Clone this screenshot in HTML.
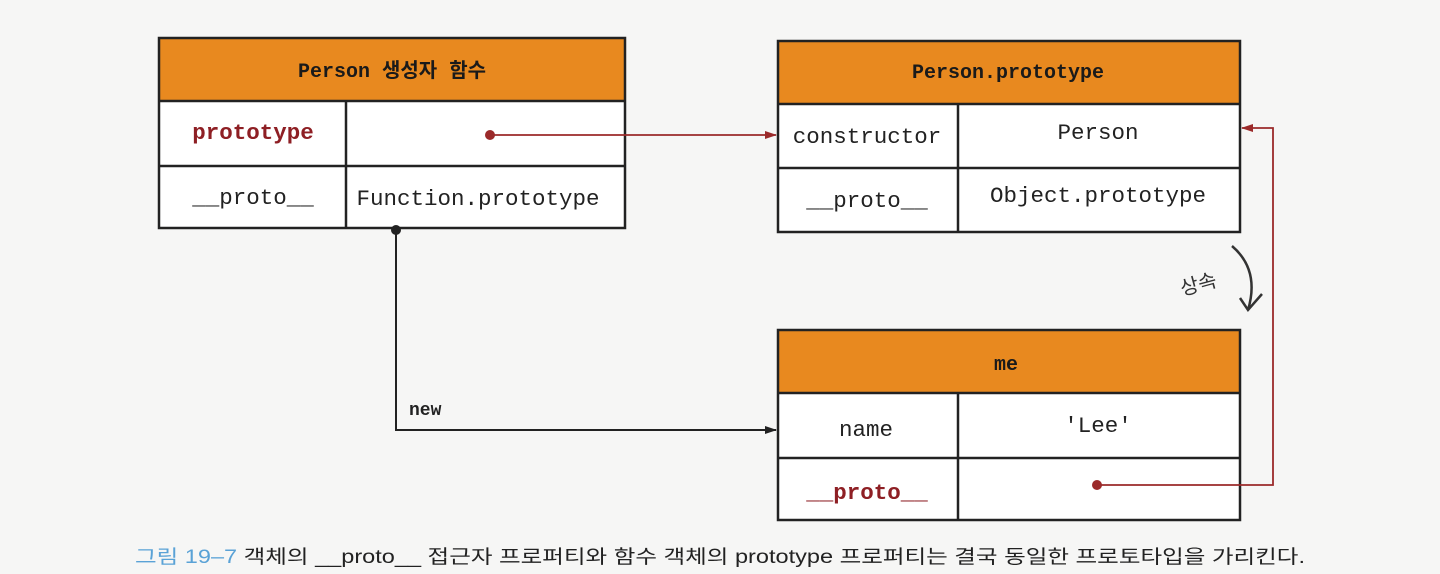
<!DOCTYPE html>
<html><head><meta charset="utf-8"><style>
html,body{margin:0;padding:0;background:#f6f6f5;}
svg{display:block}
.m{font-family:"Liberation Mono","DejaVu Sans Mono","Noto Sans CJK KR",monospace;font-size:22.5px;fill:#222}
.h{font-weight:bold;fill:#1a1a1a;font-size:20px}
.r{fill:#8e1f24;font-weight:bold}
</style></head><body>
<svg width="1440" height="574" viewBox="0 0 1440 574" xmlns="http://www.w3.org/2000/svg">
<defs>
<marker id="ar" markerWidth="12" markerHeight="10" refX="11" refY="5" orient="auto" markerUnits="userSpaceOnUse"><path d="M0,1 L12,5 L0,9 z" fill="#9b2a2a"/></marker>
<marker id="ab" markerWidth="12" markerHeight="10" refX="11" refY="5" orient="auto" markerUnits="userSpaceOnUse"><path d="M0,1 L12,5 L0,9 z" fill="#222"/></marker>
</defs>
<rect width="1440" height="574" fill="#f6f6f5"/>
<!-- Box 1 -->
<rect x="159" y="38" width="466" height="63" fill="#e8891f"/>
<rect x="159" y="101" width="466" height="127" fill="#fff"/>
<g stroke="#222" stroke-width="2.5" fill="none">
<rect x="159" y="38" width="466" height="190"/>
<line x1="159" y1="101" x2="625" y2="101"/>
<line x1="159" y1="166" x2="625" y2="166"/>
<line x1="346" y1="101" x2="346" y2="228"/>
</g>
<text class="m h" x="392" y="77" text-anchor="middle">Person 생성자 함수</text>
<text class="m r" x="253" y="139" text-anchor="middle">prototype</text>
<text class="m" x="253" y="204" text-anchor="middle">__proto__</text>
<text class="m" x="478" y="205" text-anchor="middle">Function.prototype</text>
<!-- Box 2 -->
<rect x="778" y="41" width="462" height="63" fill="#e8891f"/>
<rect x="778" y="104" width="462" height="128" fill="#fff"/>
<g stroke="#222" stroke-width="2.5" fill="none">
<rect x="778" y="41" width="462" height="191"/>
<line x1="778" y1="104" x2="1240" y2="104"/>
<line x1="778" y1="168" x2="1240" y2="168"/>
<line x1="958" y1="104" x2="958" y2="232"/>
</g>
<text class="m h" x="1008" y="78" text-anchor="middle">Person.prototype</text>
<text class="m" x="867" y="143" text-anchor="middle">constructor</text>
<text class="m" x="1098" y="139" text-anchor="middle">Person</text>
<text class="m" x="867" y="207" text-anchor="middle">__proto__</text>
<text class="m" x="1098" y="202" text-anchor="middle">Object.prototype</text>
<!-- Box 3 -->
<rect x="778" y="330" width="462" height="63" fill="#e8891f"/>
<rect x="778" y="393" width="462" height="127" fill="#fff"/>
<g stroke="#222" stroke-width="2.5" fill="none">
<rect x="778" y="330" width="462" height="190"/>
<line x1="778" y1="393" x2="1240" y2="393"/>
<line x1="778" y1="458" x2="1240" y2="458"/>
<line x1="958" y1="393" x2="958" y2="520"/>
</g>
<text class="m h" x="1006" y="370" text-anchor="middle">me</text>
<text class="m" x="866" y="436" text-anchor="middle">name</text>
<text class="m" x="1098" y="432" text-anchor="middle">'Lee'</text>
<text class="m r" x="867" y="499" text-anchor="middle">__proto__</text>
<!-- connectors -->
<circle cx="490" cy="135" r="5" fill="#9b2a2a"/>
<line x1="490" y1="135" x2="776" y2="135" stroke="#9b2a2a" stroke-width="1.8" marker-end="url(#ar)"/>
<circle cx="396" cy="230" r="5" fill="#222"/>
<polyline points="396,230 396,430 776,430" fill="none" stroke="#222" stroke-width="2" marker-end="url(#ab)"/>
<text class="m" x="409" y="415" style="font-size:18px;font-weight:bold">new</text>
<circle cx="1097" cy="485" r="5" fill="#9b2a2a"/>
<polyline points="1097,485 1273,485 1273,128 1242,128" fill="none" stroke="#9b2a2a" stroke-width="1.8" marker-end="url(#ar)"/>
<!-- handwritten inheritance -->
<path d="M1232,246 Q1260,270 1248,310" fill="none" stroke="#333" stroke-width="2.5"/>
<path d="M1240,298 L1248,310 L1262,294" fill="none" stroke="#333" stroke-width="2.5"/>
<text x="1180" y="292" style="font-family:'Noto Sans CJK KR',sans-serif;font-size:20px;fill:#333" transform="rotate(-15 1195 285)">상속</text>
<!-- caption -->
<text x="135" y="563" style="font-family:'Liberation Sans','Noto Sans CJK KR',sans-serif;font-size:19px;fill:#222" textLength="1170" lengthAdjust="spacingAndGlyphs"><tspan fill="#5aa2d6">그림 19–7</tspan> 객체의 __proto__ 접근자 프로퍼티와 함수 객체의 prototype 프로퍼티는 결국 동일한 프로토타입을 가리킨다.</text>
</svg>
</body></html>
